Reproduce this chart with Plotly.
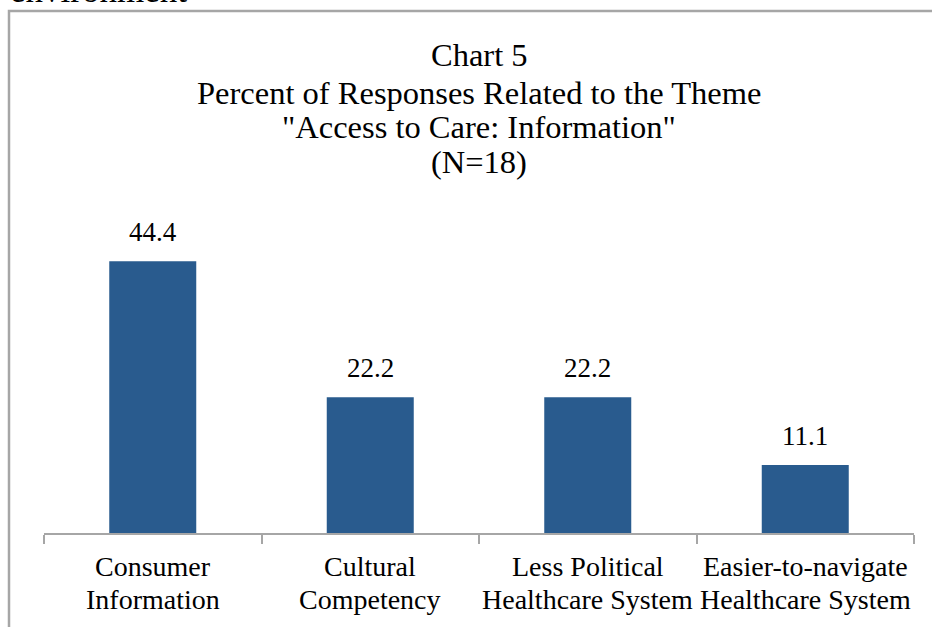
import plotly.graph_objects as go

categories = ["Consumer Information", "Cultural Competency",
              "Less Political Healthcare System", "Easier-to-navigate Healthcare System"]
label_line1 = ["Consumer", "Cultural", "Less Political", "Easier-to-navigate"]
label_line2 = ["Information", "Competency", "Healthcare System", "Healthcare System"]
values = [44.4, 22.2, 22.2, 11.1]
value_labels = ["44.4", "22.2", "22.2", "11.1"]
title_lines = ["Chart 5", "Percent of Responses Related to the Theme",
               "\"Access to Care: Information\"", "(N=18)"]

W, H = 932, 627
L, R, T, B = 44, 18, 227, 94
PW, PH = W - L - R, H - T - B


def px_x(px):
    return (px - L) / PW


def px_y(py):
    return (H - B - py) / PH


FONT = "Liberation Serif"
BAR = "#295B8E"
AXIS = "#A6A6A6"

fig = go.Figure()
fig.add_trace(go.Bar(x=categories, y=values, marker=dict(color=BAR, line=dict(width=0)),
                     hoverinfo="skip"))

annotations = []
for c, v, t in zip(categories, values, value_labels):
    annotations.append(dict(x=c, y=v, xref="x", yref="y", text=t, showarrow=False,
                            yanchor="middle", yshift=29,
                            font=dict(family=FONT, size=27, color="#000000")))

# category labels (two lines each), placed on the category axis
for c, l1, l2 in zip(categories, label_line1, label_line2):
    for txt, cy in ((l1, 566.5), (l2, 599.5)):
        annotations.append(dict(x=c, y=px_y(cy), xref="x", yref="paper", text=txt,
                                showarrow=False, xanchor="center", yanchor="middle",
                                font=dict(family=FONT, size=28, color="#000000")))

title_centers = [55, 93, 127, 162]
for line, cy in zip(title_lines, title_centers):
    annotations.append(dict(x=0.5, y=px_y(cy), xref="paper", yref="paper", text=line,
                            showarrow=False, xanchor="center", yanchor="middle",
                            font=dict(family=FONT, size=32.5, color="#000000")))

# cropped document text above the chart
annotations.append(dict(x=px_x(8), y=px_y(-10), xref="paper", yref="paper", text="environment",
                        showarrow=False, xanchor="left", yanchor="middle",
                        font=dict(family=FONT, size=35, color="#000000")))

shapes = [dict(type="rect", xref="paper", yref="paper",
               x0=px_x(9), x1=px_x(960), y0=px_y(660), y1=px_y(11),
               line=dict(color=AXIS, width=2.5), fillcolor="rgba(0,0,0,0)", layer="below")]

fig.update_layout(
    width=W, height=H,
    margin=dict(l=L, r=R, t=T, b=B, pad=0),
    paper_bgcolor="white", plot_bgcolor="white",
    showlegend=False, bargap=0.6,
    annotations=annotations, shapes=shapes,
    xaxis=dict(type="category", showline=True, linecolor=AXIS, linewidth=1.5,
               ticks="outside", ticklen=9, tickcolor=AXIS, tickwidth=1.5,
               tickson="boundaries", showgrid=False, zeroline=False,
               showticklabels=False, range=[-0.5, 3.5]),
    yaxis=dict(range=[0, 50], visible=False, showgrid=False, zeroline=False),
)

fig.write_html("out.html", config={"displayModeBar": False},
               post_script="document.body.style.margin='0';document.body.style.overflow='hidden';")
